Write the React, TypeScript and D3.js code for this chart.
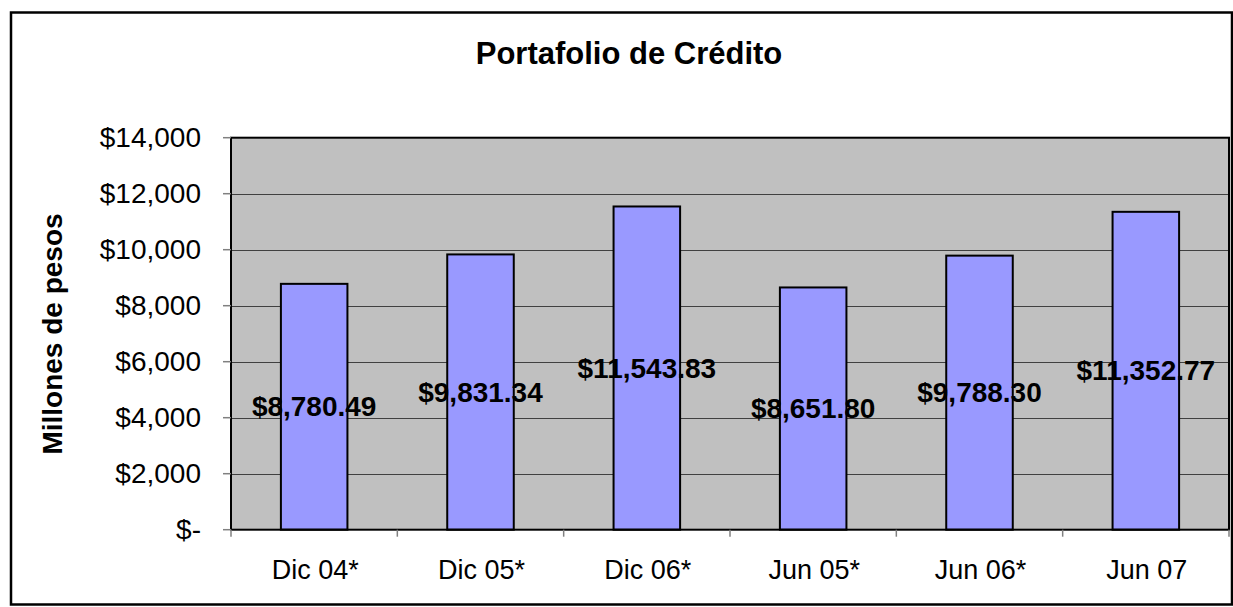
import React from "react";
import * as d3 from "d3";

const categories = ["Dic 04*", "Dic 05*", "Dic 06*", "Jun 05*", "Jun 06*", "Jun 07"];
const values = [8780.49, 9831.34, 11543.83, 8651.8, 9788.3, 11352.77];
const yTicks = [0, 2000, 4000, 6000, 8000, 10000, 12000, 14000];
const title = "Portafolio de Crédito";
const yTitle = "Millones de pesos";

const W = 1233;
const H = 607;
const plot = { left: 231, right: 1229, top: 137.7, bottom: 529.7 };
const FONT = "'Liberation Sans', Arial, sans-serif";

export default function App() {
  const x = d3
    .scaleBand<string>()
    .domain(categories)
    .range([plot.left, plot.right])
    .paddingInner(0.6)
    .paddingOuter(0.3);
  const step = (plot.right - plot.left) / categories.length;
  const y = d3.scaleLinear().domain([0, 14000]).range([plot.bottom, plot.top]);
  const fmtTick = (v: number) => (v === 0 ? "$-" : "$" + d3.format(",")(v));
  const fmtVal = (v: number) => "$" + d3.format(",.2f")(v);

  return (
    <svg
      width={W}
      height={H}
      style={{ position: "absolute", left: 0, top: 0, background: "#fff" }}
      fontFamily={FONT}
    >
      <rect x={0} y={0} width={W} height={H} fill="#fff" />
      {/* outer chart border */}
      <rect x={11} y={12.5} width={1221} height={592} fill="none" stroke="#000" strokeWidth={2.5} />

      {/* title */}
      <text x={629} y={63.5} textAnchor="middle" fontSize={31} fontWeight="bold" fill="#000">
        {title}
      </text>

      {/* plot background */}
      <rect
        x={plot.left}
        y={plot.top}
        width={plot.right - plot.left}
        height={plot.bottom - plot.top}
        fill="#C0C0C0"
      />

      {/* gridlines */}
      {yTicks.slice(1, -1).map((t) => (
        <line
          key={"g" + t}
          x1={plot.left}
          x2={plot.right}
          y1={Math.round(y(t)) + 0.5}
          y2={Math.round(y(t)) + 0.5}
          stroke="#404040"
          strokeWidth={1}
        />
      ))}

      {/* bars */}
      {values.map((v, i) => (
        <rect
          key={"b" + i}
          x={x(categories[i])}
          y={y(v)}
          width={x.bandwidth()}
          height={plot.bottom - y(v)}
          fill="#9999FF"
          stroke="#000"
          strokeWidth={2}
        />
      ))}

      {/* plot border */}
      <rect
        x={plot.left}
        y={plot.top}
        width={plot.right - plot.left}
        height={plot.bottom - plot.top}
        fill="none"
        stroke="#000"
        strokeWidth={2}
      />

      {/* y ticks */}
      {yTicks.map((t) => (
        <g key={"yt" + t}>
          <line x1={plot.left - 8} x2={plot.left} y1={y(t)} y2={y(t)} stroke="#808080" strokeWidth={1.5} />
          <text x={201} y={y(t) + 9.5} textAnchor="end" fontSize={28} fill="#000">
            {fmtTick(t)}
          </text>
        </g>
      ))}

      {/* x ticks */}
      {d3.range(categories.length + 1).map((i) => (
        <line
          key={"xt" + i}
          x1={plot.left + i * step}
          x2={plot.left + i * step}
          y1={plot.bottom}
          y2={plot.bottom + 7}
          stroke="#808080"
          strokeWidth={1.5}
        />
      ))}

      {/* x labels */}
      {categories.map((c) => (
        <text
          key={"xl" + c}
          x={(x(c) as number) + x.bandwidth() / 2 + 1}
          y={579}
          textAnchor="middle"
          fontSize={27}
          fill="#000"
        >
          {c}
        </text>
      ))}

      {/* data labels */}
      {values.map((v, i) => (
        <text
          key={"dl" + i}
          x={(x(categories[i]) as number) + x.bandwidth() / 2}
          y={(y(v) + plot.bottom) / 2 + 9.5}
          textAnchor="middle"
          fontSize={28}
          fontWeight="bold"
          fill="#000"
        >
          {fmtVal(v)}
        </text>
      ))}

      {/* y axis title */}
      <text
        transform={`translate(62,334) rotate(-90)`}
        textAnchor="middle"
        fontSize={28}
        fontWeight="bold"
        fill="#000"
      >
        {yTitle}
      </text>
    </svg>
  );
}
